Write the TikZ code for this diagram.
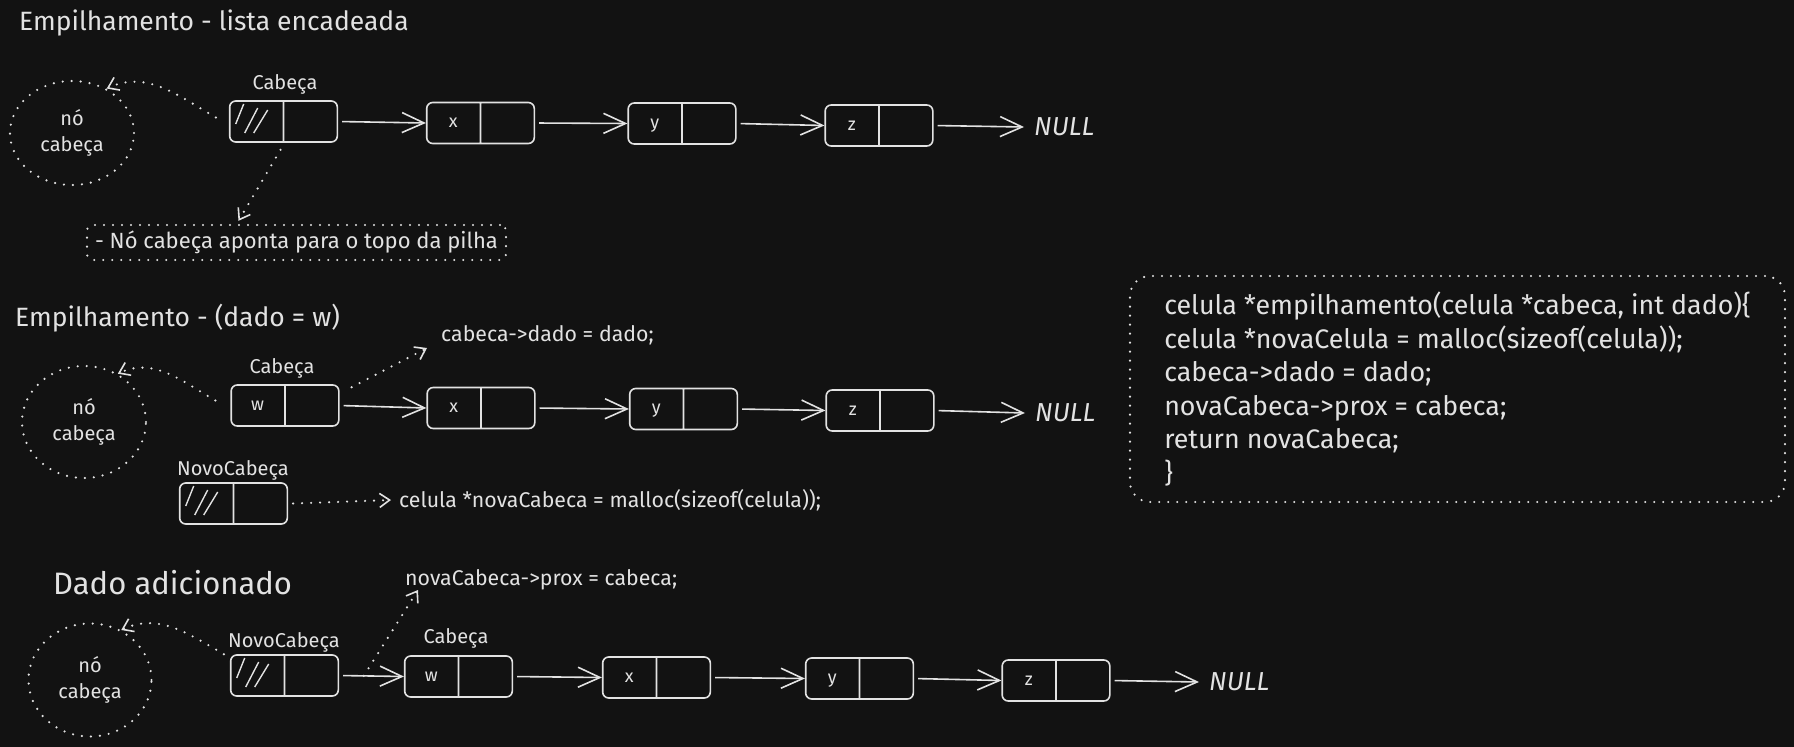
\documentclass[tikz,border=0pt]{standalone}
\usepackage{fontspec}
\setmainfont{Fira Sans}
\usetikzlibrary{arrows.meta,shapes.multipart,shapes.geometric}
\definecolor{fundo}{RGB}{18,18,18}
\definecolor{traco}{RGB}{226,226,226}
\tikzstyle{titulo} = [anchor=west, inner sep=0pt, text=traco, font=\fontsize{26.5}{30}\selectfont]
\tikzstyle{rotulo} = [inner sep=0pt, text=traco, font=\fontsize{20}{24}\selectfont]
\tikzstyle{codigo} = [anchor=west, inner sep=0pt, text=traco, font=\fontsize{21.3}{26}\selectfont]
\tikzstyle{celula} = [rectangle split, rectangle split horizontal, rectangle split parts=2, draw=traco, line width=1.6pt, rounded corners=6pt, text=traco, text width=38pt, align=center, inner xsep=7.5pt, inner ysep=14.5pt, text height=10.5pt, text depth=1.5pt, font=\fontsize{18}{20}\selectfont]
\tikzstyle{vazio} = [path picture={\draw[traco, line width=1.4pt]
	([shift={(14pt,-3pt)}]path picture bounding box.north west) -- ++(-8pt,-20pt)
	([shift={(28pt,-7pt)}]path picture bounding box.north west) -- ++(-13pt,-25pt)
	([shift={(38pt,-9pt)}]path picture bounding box.north west) -- ++(-14pt,-23pt);}]
\tikzstyle{pontilhado} = [draw=traco, line width=2.4pt, dash pattern=on 0pt off 9pt, line cap=round]
\tikzstyle{circno} = [ellipse, pontilhado, text=traco, align=center, inner sep=0pt, font=\fontsize{20}{26}\selectfont]
\tikzstyle{nulo} = [anchor=west, inner sep=0pt, text=traco, font=\fontsize{26}{30}\selectfont\itshape]
\tikzstyle{seta} = [draw=traco, line width=1.6pt, shorten <=4pt, -{Straight Barb[length=22pt, width=20pt, line width=1.6pt]}]
\tikzstyle{setaponto} = [pontilhado, -{Straight Barb[length=10pt, width=14pt, line width=1.6pt]}]

\begin{document}
\begin{tikzpicture}[x=1pt, y=-1pt]
	\fill[fundo] (0,0) rectangle (1794,747);
	% lista encadeada
	\node (titulo1) at (19, 23)[titulo] {Empilhamento - lista encadeada};
	\node (circ1) at (72, 133)[circno, minimum width=124pt, minimum height=104pt] {nó\\cabeça};
	\node (tcab1) at (285, 84)[rotulo] {Cabeça};
	\node (cab1) at (283.5, 121.5)[celula, vazio] {\nodepart{two}};
	\node (x1) at (480.5, 123)[celula] {x\nodepart{two}};
	\node (y1) at (682, 123.5)[celula] {y\nodepart{two}};
	\node (z1) at (879, 125.5)[celula] {z\nodepart{two}};
	\node (null1) at (1034, 127)[nulo] {NULL};
	\node (nota) at (296.5, 242.5)[pontilhado, rounded corners=6pt, minimum width=419pt, minimum height=35pt, inner sep=0pt, text=traco, font=\fontsize{22}{26}\selectfont] {- Nó cabeça aponta para o topo da pilha};
	\draw [seta] (cab1.east) -- (x1.west);
	\draw [seta] (x1.east) -- (y1.west);
	\draw [seta] (y1.east) -- (z1.west);
	\draw [seta] (z1.east) -- ([xshift=-10pt]null1.west);
	\draw [setaponto] ([shift={(-13pt,4pt)}]cab1.west) to[out=150, in=25] (circ1.52);
	\draw [setaponto] ([shift={(-3pt,-7pt)}]cab1.south) -- ([shift={(-58pt,3pt)}]nota.north);
	% empilhamento
	\node (titulo2) at (15, 318)[titulo] {Empilhamento - (dado = w)};
	\node (dadolbl) at (441, 335)[codigo] {cabeca->dado = dado;};
	\node (circ2) at (84, 422)[circno, minimum width=124pt, minimum height=112pt] {nó\\cabeça};
	\node (tcab2) at (282, 368)[rotulo] {Cabeça};
	\node (cab2) at (285, 405.5)[celula] {w\nodepart{two}};
	\node (x2) at (481, 408)[celula] {x\nodepart{two}};
	\node (y2) at (683.5, 409)[celula] {y\nodepart{two}};
	\node (z2) at (880, 410.5)[celula] {z\nodepart{two}};
	\node (null2) at (1035, 413)[nulo] {NULL};
	\node (tnovo2) at (233, 470)[rotulo] {NovoCabeça};
	\node (novo2) at (233.5, 503.5)[celula, vazio] {\nodepart{two}};
	\node (malloclbl) at (399, 500)[codigo] {celula *novaCabeca = malloc(sizeof(celula));};
	\node (funcao) at (1457.5, 389)[pontilhado, rounded corners=20pt, minimum width=655pt, minimum height=226pt, inner sep=0pt, align=left, text=traco, font=\fontsize{26.8}{33.5}\selectfont] {celula *empilhamento(celula *cabeca, int dado)\{\\celula *novaCelula = malloc(sizeof(celula));\\cabeca->dado = dado;\\novaCabeca->prox = cabeca;\\return novaCabeca;\\\}};
	\draw [seta] (cab2.east) -- (x2.west);
	\draw [seta] (x2.east) -- (y2.west);
	\draw [seta] (y2.east) -- (z2.west);
	\draw [seta] (z2.east) -- ([xshift=-10pt]null2.west);
	\draw [setaponto] ([shift={(-15pt,5pt)}]cab2.west) to[out=150, in=25] (circ2.55);
	\draw [setaponto] ([shift={(12pt,-3pt)}]cab2.north east) -- ([shift={(-14pt,-13pt)}]dadolbl.west);
	\draw [setaponto] ([xshift=5pt]novo2.east) -- ([xshift=-8pt]malloclbl.west);
	% dado adicionado
	\node (titulo3) at (53, 583)[titulo, font=\fontsize{31}{36}\selectfont] {Dado adicionado};
	\node (proxlbl) at (405, 580)[codigo] {novaCabeca->prox = cabeca;};
	\node (circ3) at (90, 680)[circno, minimum width=123pt, minimum height=113pt] {nó\\cabeça};
	\node (tnovo3) at (284, 642)[rotulo] {NovoCabeça};
	\node (novo3) at (284.5, 675.5)[celula, vazio] {\nodepart{two}};
	\node (tcab3) at (456, 638)[rotulo] {Cabeça};
	\node (cab3) at (458.5, 676.5)[celula] {w\nodepart{two}};
	\node (x3) at (656.5, 677.5)[celula] {x\nodepart{two}};
	\node (y3) at (859.5, 678.5)[celula] {y\nodepart{two}};
	\node (z3) at (1056, 680.5)[celula] {z\nodepart{two}};
	\node (null3) at (1209, 682)[nulo] {NULL};
	\draw [seta] (novo3.east) -- (cab3.west) coordinate[pos=0.38] (meio);
	\draw [seta] (cab3.east) -- (x3.west);
	\draw [seta] (x3.east) -- (y3.west);
	\draw [seta] (y3.east) -- (z3.west);
	\draw [seta] (z3.east) -- ([xshift=-10pt]null3.west);
	\draw [setaponto] ([xshift=-6pt]novo3.north west) to[out=150, in=25] (circ3.58);
	\draw [setaponto] (meio) -- ([shift={(13pt,-10pt)}]proxlbl.west);
\end{tikzpicture}
\end{document}
